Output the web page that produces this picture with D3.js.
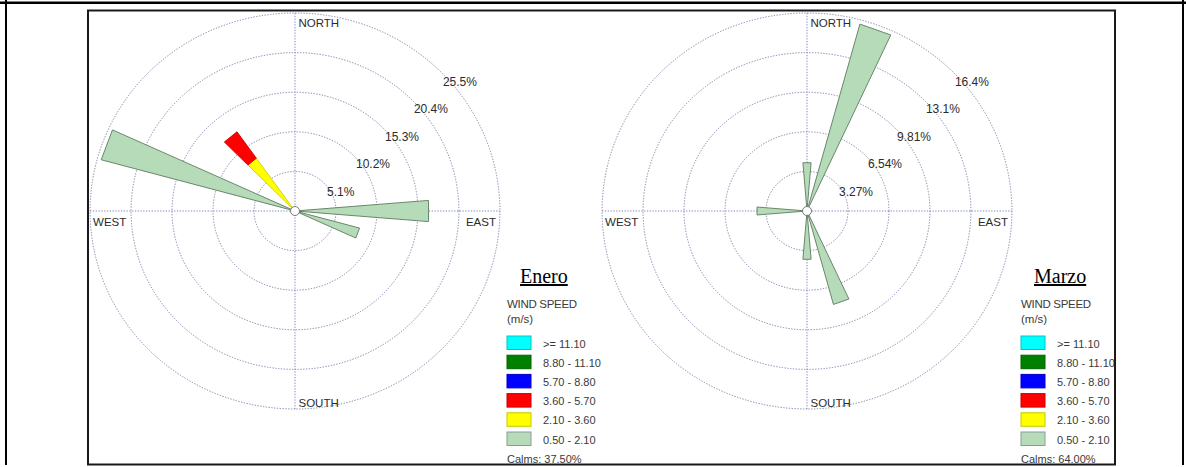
<!DOCTYPE html>
<html>
<head>
<meta charset="utf-8">
<script src="https://cdn.jsdelivr.net/npm/d3@7"></script>
<style>
  html, body { margin: 0; padding: 0; background: #fff; }
  svg { display: block; }
</style>
</head>
<body>
<svg id="chart" width="1186" height="467"></svg>
<script>
// Wind speed classes (m/s), drawn from the centre outwards
const speedClasses = ["0.50 - 2.10", "2.10 - 3.60", "3.60 - 5.70", "5.70 - 8.80", "8.80 - 11.10", ">= 11.10"];
const classColors  = ["#b6dbb9", "#ffff00", "#ff0000", "#0000ff", "#008000", "#00ffff"];

// Enero: frequency (%) per direction sector (bearing, degrees)
const eneroDirs     = [90, 110, 290, 320];
const eneroC1       = [16.67, 8.33, 25.0, 0];   // 0.50 - 2.10
const eneroC2       = [0, 0, 0, 8.33];          // 2.10 - 3.60
const eneroC3       = [0, 0, 0, 4.17];          // 3.60 - 5.70
const eneroRings    = [5.1, 10.2, 15.3, 20.4, 25.5];
const eneroRingText = ["5.1%", "10.2%", "15.3%", "20.4%", "25.5%"];
const eneroCalms    = "Calms: 37.50%";

// Marzo
const marzoDirs     = [0, 20, 160, 180, 270];
const marzoC1       = [4, 16, 8, 4, 4];         // 0.50 - 2.10
const marzoRings    = [3.27, 6.54, 9.81, 13.08, 16.35];
const marzoRingText = ["3.27%", "6.54%", "9.81%", "13.1%", "16.4%"];
const marzoCalms    = "Calms: 64.00%";

const compass = ["NORTH", "EAST", "SOUTH", "WEST"];

const svg = d3.select("#chart");
const FONT = "'Liberation Sans', Arial, sans-serif";

// page frame
svg.append("line").attr("x1", 0).attr("x2", 1186).attr("y1", 2.8).attr("y2", 2.8)
  .attr("stroke", "#000").attr("stroke-width", 2.6);
svg.append("line").attr("x1", 6).attr("x2", 6).attr("y1", 0).attr("y2", 465)
  .attr("stroke", "#000").attr("stroke-width", 2);
svg.append("line").attr("x1", 1183).attr("x2", 1183).attr("y1", 0).attr("y2", 465)
  .attr("stroke", "#000").attr("stroke-width", 2);

const box = { x: 88, y: 10.5, w: 1027, h: 454 };
svg.append("defs").append("clipPath").attr("id", "boxclip")
  .append("rect").attr("x", box.x).attr("y", box.y).attr("width", box.w).attr("height", box.h);
const inner = svg.append("g").attr("clip-path", "url(#boxclip)");

const R = 198;        // outer ring radius
const SX = 1.035;     // horizontal aspect of the plot

function drawRose(cfg) {
  const g = inner.append("g");
  const cx = cfg.cx, cy = cfg.cy;
  const r = d3.scaleLinear().domain([0, d3.max(cfg.rings)]).range([0, R]);
  const pt = (rad, deg) => {
    const a = deg * Math.PI / 180;
    return [cx + SX * rad * Math.sin(a), cy - rad * Math.cos(a)];
  };

  // rings
  g.selectAll("ellipse.ring").data(cfg.rings).join("ellipse")
    .attr("cx", cx).attr("cy", cy)
    .attr("rx", d => r(d) * SX).attr("ry", d => r(d))
    .attr("fill", "none").attr("stroke", "#7f82a8")
    .attr("stroke-width", 1).attr("stroke-dasharray", "1.3,1.5");

  // axes through the centre
  g.append("line").attr("x1", cx - R * SX).attr("x2", cx + R * SX).attr("y1", cy).attr("y2", cy)
    .attr("stroke", "#7f84cc").attr("stroke-width", 1).attr("stroke-dasharray", "1.3,1.5");
  g.append("line").attr("x1", cx).attr("x2", cx).attr("y1", cy - R).attr("y2", cy + R)
    .attr("stroke", "#7f84cc").attr("stroke-width", 1).attr("stroke-dasharray", "1.3,1.5");

  // ring labels
  g.selectAll("text.rl").data(cfg.rings).join("text")
    .attr("x", d => cx + 3 + r(d) * 0.732)
    .attr("y", d => cy + 8.6 - r(d) * 0.697)
    .attr("dominant-baseline", "central")
    .attr("font-family", FONT).attr("font-size", 12).attr("fill", "#2b2b2b")
    .text((d, i) => cfg.ringText[i]);

  // compass labels
  const size = 11.5, col = "#2b2b2b";
  g.append("text").attr("x", cx + 3.5).attr("y", cy - R + 14)
    .attr("font-family", FONT).attr("font-size", size).attr("fill", col).text(compass[0]);
  g.append("text").attr("x", cx + 3.5).attr("y", cy + R - 2)
    .attr("font-family", FONT).attr("font-size", size).attr("fill", col).text(compass[2]);
  g.append("text").attr("x", cx - R * SX + 3).attr("y", cy + 15)
    .attr("font-family", FONT).attr("font-size", size).attr("fill", col).text(compass[3]);
  g.append("text").attr("x", cx + R * SX - 4).attr("y", cy + 15).attr("text-anchor", "end")
    .attr("font-family", FONT).attr("font-size", size).attr("fill", col).text(compass[1]);

  // stacked petals
  const rows = cfg.dirs.map((d, i) => {
    const o = { dir: d };
    speedClasses.forEach((k, j) => { o[k] = cfg.series[j] ? cfg.series[j][i] : 0; });
    return o;
  });
  const stacked = d3.stack().keys(speedClasses)(rows);
  const hw = 4.7;
  stacked.forEach((layer, j) => {
    const segs = layer.filter(s => s[1] - s[0] > 0);
    g.selectAll(null).data(segs).join("polygon")
      .attr("points", s => {
        const b = s.data.dir;
        return [pt(r(s[0]), b - hw), pt(r(s[1]), b - hw), pt(r(s[1]), b + hw), pt(r(s[0]), b + hw)]
          .map(p => p.join(",")).join(" ");
      })
      .attr("fill", classColors[j])
      .attr("stroke", j === 0 ? "#5d7a5f" : d3.color(classColors[j]).darker(0.6))
      .attr("stroke-width", 0.9).attr("stroke-linejoin", "round");
  });

  // centre marker
  g.append("circle").attr("cx", cx).attr("cy", cy).attr("r", 4.5)
    .attr("fill", "#fff").attr("stroke", "#777").attr("stroke-width", 1);

  // legend
  const lx = cfg.legendX;
  g.append("text").attr("x", lx + 13).attr("y", 283)
    .attr("font-family", "'Liberation Serif', 'Times New Roman', serif").attr("font-size", 20)
    .attr("fill", "#000").attr("text-decoration", "underline").text(cfg.title);
  g.append("text").attr("x", lx).attr("y", 308)
    .attr("font-family", FONT).attr("font-size", 11.5).attr("fill", "#3a3a3a")
    .attr("letter-spacing", -0.3).text("WIND SPEED");
  g.append("text").attr("x", lx).attr("y", 323)
    .attr("font-family", FONT).attr("font-size", 11.5).attr("fill", "#3a3a3a").text("(m/s)");

  const order = d3.range(speedClasses.length).reverse();
  const ly = d3.scalePoint().domain(order).range([336, 432]);
  order.forEach(j => {
    g.append("rect").attr("x", lx).attr("y", ly(j)).attr("width", 24).attr("height", 13.5)
      .attr("fill", classColors[j])
      .attr("stroke", j === 0 ? "#8c9e8e" : d3.color(classColors[j]).darker(0.7))
      .attr("stroke-width", 1);
    g.append("text").attr("x", lx + 36).attr("y", ly(j) + 7.5)
      .attr("dominant-baseline", "central")
      .attr("font-family", FONT).attr("font-size", 11).attr("fill", "#3a3a3a")
      .text(speedClasses[j]);
  });
  g.append("text").attr("x", lx).attr("y", 462.5)
    .attr("font-family", FONT).attr("font-size", 11).attr("fill", "#3a3a3a").text(cfg.calms);
}

drawRose({ cx: 295, cy: 211, dirs: eneroDirs, series: [eneroC1, eneroC2, eneroC3],
  rings: eneroRings, ringText: eneroRingText, legendX: 507, title: "Enero", calms: eneroCalms });
drawRose({ cx: 807, cy: 211, dirs: marzoDirs, series: [marzoC1],
  rings: marzoRings, ringText: marzoRingText, legendX: 1021, title: "Marzo", calms: marzoCalms });

// panel border drawn over the content
svg.append("rect").attr("x", box.x).attr("y", box.y).attr("width", box.w).attr("height", box.h)
  .attr("fill", "none").attr("stroke", "#1a1a1a").attr("stroke-width", 2);
</script>
</body>
</html>
